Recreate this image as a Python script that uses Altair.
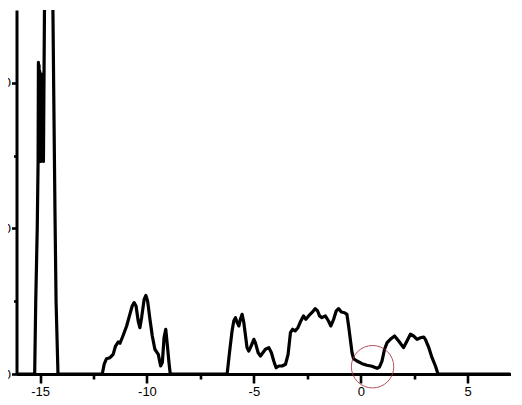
import altair as alt
import pandas as pd

# curve: energy (x) and density (y)
xs = [-16.1, -15.25, -15.20, -15.13, -15.09,
      -15.075, -15.06, -15.045, -15.03, -15.015, -15.0, -14.985, -14.97, -14.955,
      -14.94, -14.925, -14.91, -14.895, -14.88, -14.86, -14.84,
      -14.79, -14.70, -14.60, -14.50, -14.40, -14.36, -14.30, -14.25, -14.16,
      -12.09, -12.00, -11.89, -11.73, -11.58, -11.47, -11.34, -11.26, -11.11, -10.95,
      -10.80, -10.69, -10.60, -10.51, -10.41, -10.33, -10.25, -10.13, -10.05, -9.97,
      -9.86, -9.75, -9.63, -9.47, -9.36, -9.28, -9.20, -9.12, -9.05, -8.97, -8.91,
      -6.25, -6.15, -6.02, -5.94, -5.86, -5.78, -5.70, -5.63, -5.55, -5.47, -5.40,
      -5.32, -5.24, -5.16, -5.00, -4.93, -4.80, -4.69, -4.58, -4.46, -4.30, -4.18,
      -4.07, -3.96, -3.83, -3.68, -3.52, -3.40, -3.29, -3.19, -3.07, -2.94, -2.83,
      -2.68, -2.57, -2.44, -2.29, -2.13, -2.02, -1.93, -1.82, -1.66, -1.51, -1.40,
      -1.27, -1.15, -1.04, -0.91, -0.76, -0.65, -0.57, -0.49, -0.41, -0.34, -0.18,
      0.06, 0.29, 0.52, 0.76, 0.87, 0.99, 1.11, 1.23, 1.38, 1.58, 1.77, 2.00, 2.16,
      2.32, 2.47, 2.63, 2.79, 2.94, 3.02, 3.18, 3.33, 3.49, 3.61, 7.0]
ys = [0, 0, 5.0, 10.0, 14.6,
      21.4, 15.2, 21.2, 14.8, 20.8, 15.0, 20.4, 14.6, 19.8,
      15.4, 20.6, 14.8, 19.6, 15.6, 18.4, 14.6,
      25.5, 36.0, 40.0, 36.0, 25.5, 19.5, 11.0, 5.0, 0,
      0, 0.67, 1.05, 1.12, 1.35, 1.92, 2.20, 2.11, 2.66, 3.30,
      4.10, 4.67, 4.90, 4.67, 3.64, 3.18, 3.87, 5.13, 5.40, 5.02,
      3.76, 2.61, 1.70, 1.35, 0.55, 0.78, 2.50, 3.07, 2.04, 0.78, 0,
      0, 1.35, 2.96, 3.64, 3.87, 3.53, 3.30, 3.76, 4.10, 3.53, 2.73,
      1.81, 1.58, 1.81, 2.38, 2.15, 1.46, 1.24, 1.46, 1.70, 1.81, 1.46,
      0.89, 0.43, 0.55, 0.55, 0.67, 1.35, 2.84, 3.07, 2.96, 3.18, 3.57,
      3.99, 3.76, 3.99, 4.21, 4.49, 4.33, 3.99, 3.87, 3.99, 3.64, 3.30,
      3.76, 4.33, 4.49, 4.26, 4.21, 4.10, 3.30, 2.38, 1.46, 1.05, 0.89,
      0.71, 0.60, 0.53, 0.39, 0.48, 0.89, 1.70, 2.15, 2.38, 2.61, 2.27, 1.81, 2.27,
      2.73, 2.61, 2.38, 2.49, 2.54, 2.38, 1.81, 1.12, 0.55, 0, 0]

# axis tick values: majors are labelled, minors in between are short and unlabelled
x_ticks = [-15, -12.5, -10, -7.5, -5, -2.5, 0, 2.5, 5]
y_ticks = [0, 5, 10, 15, 20]

# highlight ring around the Fermi level
circle_x = [0.55]
circle_y = [0.5]

df = pd.DataFrame({"x": xs, "y": ys})
circ = pd.DataFrame({"x": circle_x, "y": circle_y})

xs_scale = alt.Scale(domain=[-16.1, 7.0], nice=False, zero=False)
ys_scale = alt.Scale(domain=[0, 25], nice=False, zero=False)

font = "Liberation Sans"

line = alt.Chart(df).mark_line(color="black", strokeWidth=3.2, clip=True,
                               strokeJoin="round").encode(
    x=alt.X("x:Q", scale=xs_scale,
            axis=alt.Axis(orient="bottom", values=x_ticks, title=None, grid=False,
                          tickSize={"condition": {"test": "datum.value % 5 === 0", "value": 9}, "value": 5},
                          tickWidth=2.6, tickColor="black",
                          domainWidth=3, domainColor="black",
                          labelExpr="datum.value % 5 === 0 ? toString(datum.value) : ''",
                          labelFont=font, labelFontSize=13, labelColor="black",
                          labelPadding=2, labelFlush=False)),
    y=alt.Y("y:Q", scale=ys_scale,
            axis=alt.Axis(orient="left", values=y_ticks, title=None, grid=False,
                          tickSize={"condition": {"test": "datum.value % 10 === 0", "value": 5}, "value": 3},
                          tickWidth=2.6, tickColor="black",
                          domainWidth=3, domainColor="black",
                          labelExpr="datum.value % 10 === 0 ? toString(datum.value) : ''",
                          labelFont=font, labelFontSize=13, labelColor="black",
                          labelPadding=1, labelFlush=False)),
)

ring = alt.Chart(circ).mark_point(shape="circle", filled=False, size=1800,
                                  color="#a8323f", strokeWidth=1, opacity=0.85,
                                  clip=False).encode(
    x=alt.X("x:Q", scale=xs_scale),
    y=alt.Y("y:Q", scale=ys_scale),
)

chart = alt.layer(line, ring).properties(
    width=494, height=364,
    padding={"left": 8.5, "top": 2, "right": 3, "bottom": 26},
    autosize=alt.AutoSizeParams(type="none"),
    background="white",
).configure_view(stroke=None)

chart.save("out.html", embed_options={"renderer": "svg", "actions": False})
